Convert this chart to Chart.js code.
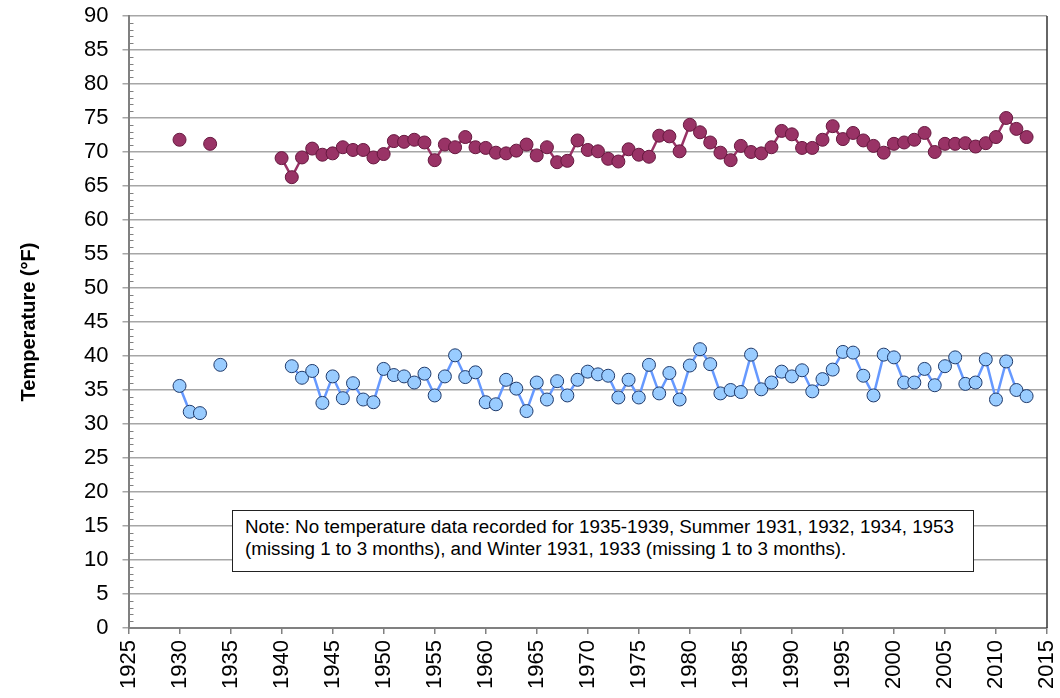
<!DOCTYPE html>
<html>
<head>
<meta charset="utf-8">
<script src="https://cdn.jsdelivr.net/npm/chart.js@4/dist/chart.umd.min.js"></script>
<style>
  html, body { margin: 0; padding: 0; background: #fff; }
  #wrap { position: relative; width: 1060px; height: 698px; }
  #note {
    position: absolute; left: 232px; top: 510px; width: 716px; height: 52px;
    border: 1px solid #222; background: #fff; padding: 5px 12px 3px 12px;
    font: 18.8px "Liberation Sans", Arial, sans-serif; line-height: 22px; color: #000;
    white-space: nowrap;
  }
</style>
</head>
<body>
<div id="wrap">
  <canvas id="chart" width="1060" height="698"></canvas>
  <div id="note">Note: No temperature data recorded for 1935-1939, Summer 1931, 1932, 1934, 1953<br>(missing 1 to 3 months), and Winter 1931, 1933 (missing 1 to 3 months).</div>
</div>
<script>
// Seasonal mean temperatures, 1930-2013 (null = no data recorded)
const years = [];
for (let y = 1930; y <= 2013; y++) years.push(y);

const summerTemps = [
  71.8, null, null, 71.2, null, null, null, null, null, null,   // 1930s
  69.1, 66.3, 69.2, 70.5, 69.6, 69.8, 70.7, 70.3, 70.3, 69.2,   // 1940s
  69.7, 71.6, 71.5, 71.8, 71.4, 68.8, 71.1, 70.7, 72.2, 70.7,   // 1950s
  70.6, 69.9, 69.8, 70.2, 71.1, 69.5, 70.7, 68.5, 68.7, 71.7,   // 1960s
  70.3, 70.1, 69.0, 68.6, 70.4, 69.6, 69.3, 72.4, 72.3, 70.1,   // 1970s
  74.0, 72.9, 71.4, 69.9, 68.8, 70.9, 70.0, 69.8, 70.7, 73.1,   // 1980s
  72.6, 70.6, 70.6, 71.8, 73.8, 71.9, 72.8, 71.7, 70.9, 69.9,   // 1990s
  71.2, 71.4, 71.8, 72.8, 70.0, 71.2, 71.2, 71.3, 70.8, 71.3,   // 2000s
  72.2, 75.0, 73.4, 72.2                                        // 2010s
];

const winterTemps = [
  35.6, 31.8, 31.6, null, 38.7, null, null, null, null, null,
  null, 38.5, 36.8, 37.8, 33.1, 37.0, 33.8, 36.0, 33.6, 33.2,
  38.1, 37.2, 37.0, 36.1, 37.4, 34.2, 37.0, 40.1, 36.9, 37.6,
  33.2, 32.9, 36.5, 35.2, 31.9, 36.1, 33.6, 36.3, 34.2, 36.5,
  37.7, 37.3, 37.1, 33.9, 36.5, 33.9, 38.7, 34.5, 37.5, 33.6,
  38.6, 41.0, 38.8, 34.5, 35.0, 34.7, 40.2, 35.1, 36.1, 37.7,
  37.0, 37.9, 34.8, 36.6, 38.0, 40.6, 40.5, 37.1, 34.2, 40.2,
  39.8, 36.1, 36.1, 38.1, 35.7, 38.5, 39.8, 35.9, 36.1, 39.5,
  33.6, 39.2, 35.0, 34.1
];

const xMin = 1925, xMax = 2015, xStep = 5;
const yMin = 0, yMax = 90, yStep = 5;

const toPoints = (vals) => years.map((yr, i) => ({ x: yr, y: vals[i] }));

const font = { family: "'Liberation Sans', Arial, sans-serif", size: 22 };

// small inside ticks every degree on the y axis, plus the right border
const extras = {
  id: "extras",
  afterDraw(chart) {
    const ctx = chart.ctx, y = chart.scales.y, a = chart.chartArea;
    ctx.save();
    ctx.strokeStyle = "#808080";
    ctx.lineWidth = 1;
    for (let v = yMin; v <= yMax; v++) {
      if (v % yStep === 0) continue;
      const py = Math.round(y.getPixelForValue(v)) + 0.5;
      ctx.beginPath();
      ctx.moveTo(a.left, py);
      ctx.lineTo(a.left + 5, py);
      ctx.stroke();
    }
    ctx.strokeStyle = "#333";
    ctx.lineWidth = 1.5;
    ctx.beginPath();
    ctx.moveTo(a.right, a.top);
    ctx.lineTo(a.right, a.bottom);
    ctx.stroke();
    ctx.restore();
  },
};

new Chart(document.getElementById("chart"), {
  type: "line",
  data: {
    datasets: [
      {
        label: "Summer",
        data: toPoints(summerTemps),
        borderColor: "#993366",
        backgroundColor: "#993366",
        pointBackgroundColor: "#993366",
        pointBorderColor: "#66183f",
        borderWidth: 2.5,
        pointRadius: 6.5,
        pointBorderWidth: 1,
        spanGaps: false,
      },
      {
        label: "Winter",
        data: toPoints(winterTemps),
        borderColor: "#6699ff",
        backgroundColor: "#99ccff",
        pointBackgroundColor: "#99ccff",
        pointBorderColor: "#1f3a6b",
        borderWidth: 2.5,
        pointRadius: 6.5,
        pointBorderWidth: 1,
        spanGaps: false,
      },
    ],
  },
  options: {
    responsive: false,
    animation: false,
    events: [],
    layout: { padding: { top: 16, right: 13, left: 0, bottom: 0 } },
    plugins: { legend: { display: false }, tooltip: { enabled: false } },
    scales: {
      x: {
        type: "linear",
        min: xMin, max: xMax,
        afterFit: (s) => { s.height = 70; s.paddingLeft = 0; s.paddingRight = 0; },
        ticks: { stepSize: xStep, minRotation: 90, maxRotation: 90, color: "#000", font, padding: 6,
          callback: (v) => String(v) },
        grid: { drawOnChartArea: false, drawTicks: true, tickLength: 6, color: "#808080", lineWidth: 1.5 },
        border: { color: "#808080", width: 2 },
      },
      y: {
        min: yMin, max: yMax,
        afterFit: (s) => { s.width = 128.5; s.paddingTop = 0; s.paddingBottom = 0; },
        ticks: { stepSize: yStep, color: "#000", font, padding: 14 },
        grid: { color: "#a6a6a6", lineWidth: 1.5, tickLength: 6 },
        border: { color: "#808080", width: 2 },
        title: {
          display: true,
          text: "Temperature (°F)",
          color: "#000",
          font: { family: "'Liberation Sans', Arial, sans-serif", size: 20, weight: "bold" },
          padding: { top: 17, bottom: 4 },
        },
      },
    },
  },
  plugins: [extras],
});
</script>
</body>
</html>
